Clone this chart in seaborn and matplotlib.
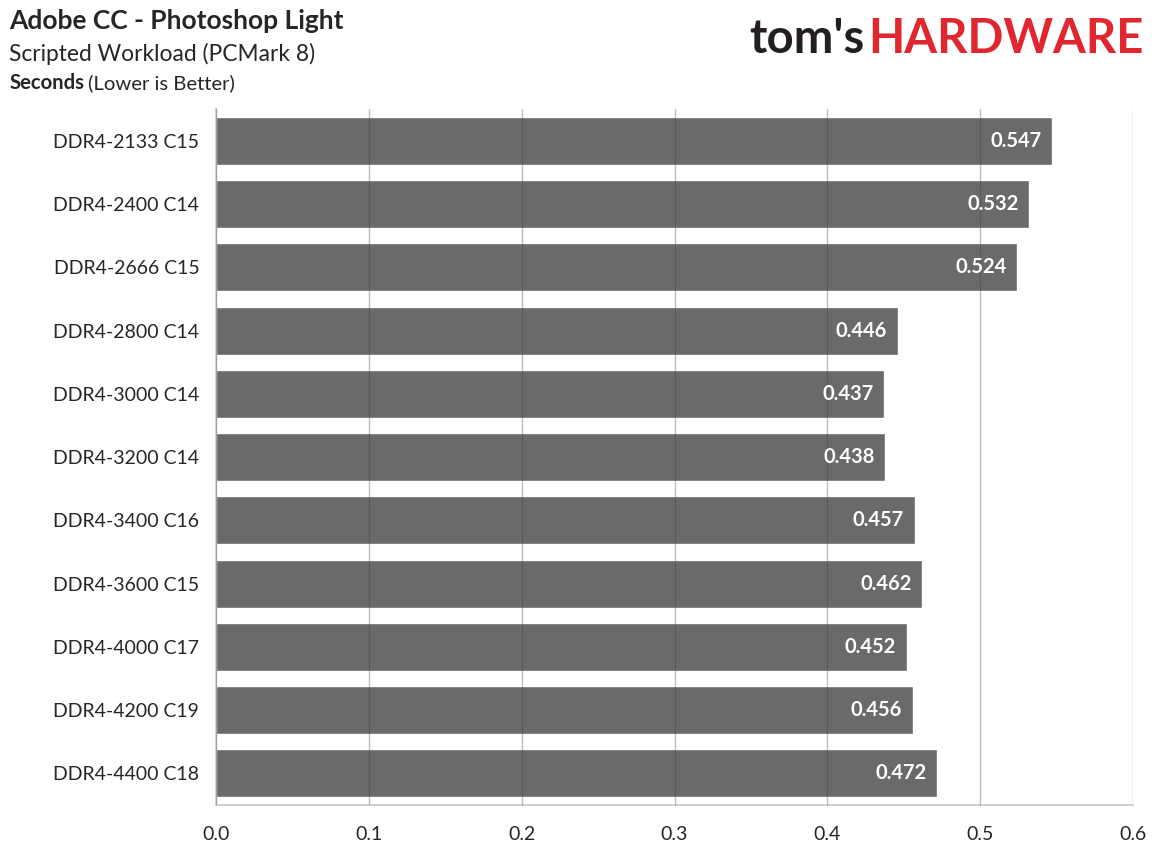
import numpy as np
import pandas as pd
import matplotlib.pyplot as plt
import seaborn as sns
from matplotlib.ticker import MultipleLocator, FixedLocator

modules = ['DDR4-2133 C15', 'DDR4-2400 C14', 'DDR4-2666 C15', 'DDR4-2800 C14',
           'DDR4-3000 C14', 'DDR4-3200 C14', 'DDR4-3400 C16', 'DDR4-3600 C15',
           'DDR4-4000 C17', 'DDR4-4200 C19', 'DDR4-4400 C18']
seconds = [0.547, 0.532, 0.524, 0.446, 0.437, 0.438, 0.457, 0.462, 0.452, 0.456, 0.472]

datos = pd.DataFrame({'Module': modules, 'Seconds': seconds})

sns.set_style("white")
plt.rcParams['font.family'] = ['Lato', 'DejaVu Sans']

fig = plt.figure(figsize=(11.61, 8.6), dpi=100)
ax = fig.add_axes([0.186, 0.064, 0.79, 0.809])

sns.barplot(data=datos, x='Seconds', y='Module', color='#6b6969', saturation=1,
            width=0.76, ax=ax, zorder=2)

ax.set_xlim(0, 0.6)
ax.set_ylim(len(modules) - 0.5, -0.5)
ax.xaxis.set_major_locator(MultipleLocator(0.1))
ax.xaxis.set_minor_locator(MultipleLocator(0.02))
ax.xaxis.set_major_formatter(plt.FormatStrFormatter('%.1f'))
ax.grid(axis='x', which='major', color='#404040', alpha=0.35, linewidth=1, zorder=3)
ax.set_axisbelow(False)
ax.set_xlabel('')
ax.set_ylabel('')

for s in ['top', 'right']:
    ax.spines[s].set_visible(False)
for s in ['left', 'bottom']:
    ax.spines[s].set_color('#c8c8c8')
    ax.spines[s].set_linewidth(1.2)

ax.tick_params(axis='x', which='both', direction='in', length=5, color='#c8c8c8',
               labelsize=14, pad=15)
ax.tick_params(axis='y', which='major', length=0, labelsize=14, pad=12)
ax.yaxis.set_minor_locator(FixedLocator(np.arange(-0.5, len(modules), 1)))
ax.tick_params(axis='y', which='minor', direction='out', length=6, color='#c8c8c8')

for i, v in enumerate(seconds):
    ax.text(v - 0.007, i, f'{v:.3f}', ha='right', va='center', color='white',
            fontsize=14.5, fontweight='bold', zorder=4)

fig.text(0.008, 0.976, 'Adobe CC - Photoshop Light', fontsize=19, fontweight='bold',
         va='center')
fig.text(0.008, 0.937, 'Scripted Workload (PCMark 8)', fontsize=16.4, va='center')
t = fig.text(0.008, 0.903, 'Seconds', fontsize=14.6, fontweight='bold', va='center')
fig.canvas.draw()
bb = t.get_window_extent()
fig.text(bb.x1 / fig.bbox.width + 0.003, 0.903, '(Lower is Better)', fontsize=14.6, va='center')

t1 = fig.text(0.645, 0.955, "tom's", fontsize=34, fontweight='bold', color='#231f20',
              va='center')
fig.canvas.draw()
bb = t1.get_window_extent()
fig.text(bb.x1 / fig.bbox.width + 0.004, 0.955, 'HARDWARE', fontsize=34, fontweight='bold',
         color='#e0262f', va='center')

plt.savefig('out.png', dpi=100)
